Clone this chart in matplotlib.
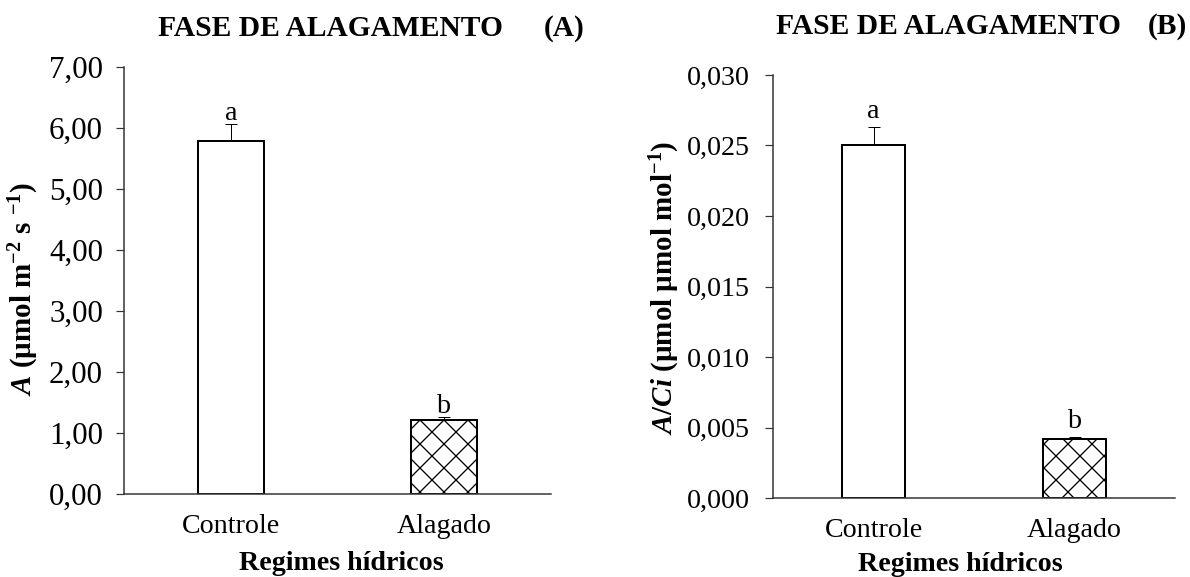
import numpy as np
import matplotlib
matplotlib.use("Agg")
import matplotlib.pyplot as plt

# data
regimes = ["Controle", "Alagado"]
a_means = [5.78, 1.21]
a_err = [0.29, 0.06]
aci_means = [0.0250, 0.00416]
aci_err = [0.0013, 0.0002]
letters = ["a", "b"]
a_ticks = [0, 1, 2, 3, 4, 5, 6, 7]
aci_ticks = [0, 0.005, 0.010, 0.015, 0.020, 0.025, 0.030]

plt.rcParams["font.family"] = "Liberation Serif"
plt.rcParams["mathtext.fontset"] = "custom"
plt.rcParams["mathtext.rm"] = "Liberation Serif:bold"
plt.rcParams["mathtext.it"] = "Liberation Serif:italic:bold"
plt.rcParams["mathtext.bf"] = "Liberation Serif:bold"
plt.rcParams["mathtext.bfit"] = "Liberation Serif:italic:bold"
plt.rcParams["hatch.linewidth"] = 1.3

W, H = 1190, 577
DPI = 72  # so that 1 pt == 1 px and the 'x' hatch gets a 12 px cell
fig = plt.figure(figsize=(W / DPI, H / DPI), dpi=DPI)


def px_axes(x0, x1, y_top, y_bot):
    return fig.add_axes([x0 / W, 1 - y_bot / H, (x1 - x0) / W, (y_bot - y_top) / H])


def panel(ax, means, errs, width, ticks, fmt, ylabel, ysize, ypad, letter_off):
    x = np.arange(len(regimes))
    ax.bar(x[0], means[0], width=width, color="white", edgecolor="black", linewidth=2, zorder=2)
    ax.bar(x[1], means[1], width=width, color="white", edgecolor="black", linewidth=2,
           hatch="x", zorder=2)
    ax.errorbar(x, means, yerr=[np.zeros(len(errs)), errs], fmt="none", ecolor="black",
                elinewidth=1, capsize=6, capthick=1, zorder=3)
    for i in range(len(x)):
        ax.annotate(letters[i], (x[i], means[i] + errs[i]), xytext=(0, letter_off),
                    textcoords="offset points", ha="center", va="baseline", fontsize=28)
    ax.set_xlim(-0.5, 1.5)
    ax.set_ylim(ticks[0], ticks[-1])
    ax.set_yticks(ticks)
    ax.set_yticklabels([fmt.format(t).replace(".", ",") for t in ticks])
    ax.set_xticks(x)
    ax.set_xticklabels(regimes)
    ax.tick_params(axis="y", direction="out", length=8, width=1.2, labelsize=ysize, pad=ypad,
                   color="#333333")
    ax.tick_params(axis="x", length=0, labelsize=28, pad=20)
    for s in ["top", "right"]:
        ax.spines[s].set_visible(False)
    for s in ["left", "bottom"]:
        ax.spines[s].set_linewidth(1.5)
        ax.spines[s].set_color("#333333")
    ax.set_xlabel("Regimes hídricos", fontsize=28, fontweight="bold")
    ax.set_ylabel(ylabel, fontsize=29, fontweight="bold")
    ax.xaxis.label.set_va("center")
    ax.yaxis.label.set_va("center")


ax1 = px_axes(124, 551, 67, 494)
panel(ax1, a_means, a_err, 0.31, a_ticks, "{:.2f}",
      r"$\mathit{A}$ (µmol m$^{\mathbf{-2}}$ s $^{\mathbf{-1}}$)", 31, 13, 4)
ax1.xaxis.set_label_coords(0.508, -0.162)
ax1.yaxis.set_label_coords(-0.235, 0.48)

ax2 = px_axes(773, 1175, 75, 498)
panel(ax2, aci_means, aci_err, 0.316, aci_ticks, "{:.3f}",
      r"$\mathit{A/Ci}$ (µmol µmol mol$^{\mathbf{-1}}$)", 28, 15, 9)
ax2.xaxis.set_label_coords(0.465, -0.158)
ax2.yaxis.set_label_coords(-0.269, 0.496)

fig.text(158 / W, 1 - 29 / H, "FASE DE ALAGAMENTO", fontsize=29.5, fontweight="bold", va="center")
fig.text(544 / W, 1 - 29 / H, "(A)", fontsize=29.5, fontweight="bold", va="center")
fig.text(776 / W, 1 - 26 / H, "FASE DE ALAGAMENTO", fontsize=29.5, fontweight="bold", va="center")
fig.text(1148 / W, 1 - 26 / H, "(B)", fontsize=29.5, fontweight="bold", va="center")

fig.savefig("out.png", dpi=DPI)
